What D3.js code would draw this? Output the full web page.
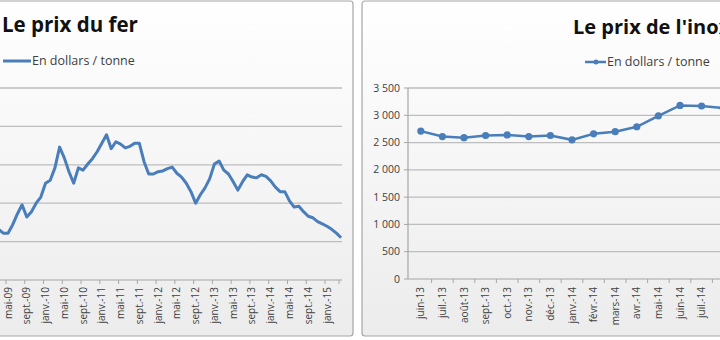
<!DOCTYPE html>
<html>
<head>
<meta charset="utf-8">
<script src="https://cdn.jsdelivr.net/npm/d3@7"></script>
<style>
  body { margin: 0; background: #ffffff; overflow: hidden; }
  svg text { font-family: "Open Sans", "DejaVu Sans", sans-serif; }
</style>
</head>
<body>
<svg id="chart" width="720" height="340"></svg>
<script>
// Iron ore price, monthly, from March 2009 (month index 2) to April 2015
const ferFirstMonth = 2;           // months counted from January 2009
const ferValues = [66, 61, 61, 72, 86, 98, 82, 89, 100, 108,
                   126, 130, 146, 173, 159, 141, 126, 146, 143, 151,
                   158, 167, 178, 189, 171, 180, 177, 172, 174, 178,
                   178, 154, 138, 138, 141, 142, 145, 147, 139, 134,
                   126, 115, 100, 111, 120, 132, 151, 155, 143, 138,
                   128, 117, 128, 137, 134, 133, 137, 135, 129, 121,
                   115, 115, 103, 95, 96, 89, 83, 81, 76, 73,
                   70, 66, 61, 55];
const ferTickLabels = ["mai-09", "sept.-09", "janv.-10", "mai-10", "sept.-10", "janv.-11",
                       "mai-11", "sept.-11", "janv.-12", "mai-12", "sept.-12", "janv.-13",
                       "mai-13", "sept.-13", "janv.-14", "mai-14", "sept.-14", "janv.-15"];
const ferTickFirstMonth = 4;       // mai-09
const ferTickStep = 4;
const ferYTicks = [0, 50, 100, 150, 200, 250];

// Stainless steel price, monthly
const inoxMonths = ["juin-13", "juil.-13", "août-13", "sept.-13", "oct.-13", "nov.-13", "déc.-13",
                    "janv.-14", "févr.-14", "mars-14", "avr.-14", "mai-14", "juin-14", "juil.-14", "août-14"];
const inoxValues = [2710, 2610, 2590, 2630, 2640, 2610, 2630, 2550, 2660, 2700, 2790, 2990, 3180, 3170, 3130];
const inoxYTicks = [0, 500, 1000, 1500, 2000, 2500, 3000, 3500];

const svg = d3.select("#chart");
const blue = "#4a7ebb";
const gridColor = "#bdbdbd";
const textColor = "#404040";
const axisFont = 10;

// background gradient shared by both panels
const defs = svg.append("defs");
const grad = defs.append("linearGradient").attr("id", "panelBg")
  .attr("x1", 0).attr("y1", 0).attr("x2", 0).attr("y2", 1);
grad.append("stop").attr("offset", "0%").attr("stop-color", "#ffffff");
grad.append("stop").attr("offset", "100%").attr("stop-color", "#ececec");

// panels
svg.append("rect").attr("x", -10).attr("y", 1).attr("width", 363).attr("height", 335)
  .attr("rx", 3).attr("fill", "url(#panelBg)").attr("stroke", "#a6a6a6").attr("stroke-width", 1.2);
svg.append("rect").attr("x", 362).attr("y", 1).attr("width", 370).attr("height", 335)
  .attr("rx", 3).attr("fill", "url(#panelBg)").attr("stroke", "#a6a6a6").attr("stroke-width", 1.2);

// ---------- Left chart: iron ore ----------
const left = svg.append("g");
const xFer = d3.scaleLinear().domain([4, 72]).range([8, 327]);
const yFer = d3.scaleLinear().domain([0, 250]).range([280, 88]);
const plotLeftEnd = 342;

left.append("text").attr("x", 2).attr("y", 32)
  .attr("font-size", 20.5).attr("font-weight", "bold").attr("fill", "#111")
  .text("Le prix du fer");
left.append("line").attr("x1", 3).attr("x2", 31).attr("y1", 61).attr("y2", 61)
  .attr("stroke", blue).attr("stroke-width", 3);
left.append("text").attr("x", 32).attr("y", 65)
  .attr("font-size", 12.5).attr("fill", textColor).text("En dollars / tonne");

left.selectAll("line.grid").data(ferYTicks.filter(d => d > 0)).join("line")
  .attr("class", "grid")
  .attr("x1", -10).attr("x2", plotLeftEnd)
  .attr("y1", d => yFer(d)).attr("y2", d => yFer(d))
  .attr("stroke", gridColor).attr("stroke-width", 1.3);

// x axis
left.append("line").attr("x1", -10).attr("x2", plotLeftEnd)
  .attr("y1", yFer(0)).attr("y2", yFer(0)).attr("stroke", "#a6a6a6").attr("stroke-width", 1.2);
const ferTicks = ferTickLabels.map((label, i) => ({ label, m: ferTickFirstMonth + i * ferTickStep }));
left.selectAll("line.tick").data(ferTicks.concat([{ label: "", m: 75 }])).join("line")
  .attr("class", "tick")
  .attr("x1", d => xFer(d.m) - 2).attr("x2", d => xFer(d.m) - 2)
  .attr("y1", yFer(0)).attr("y2", yFer(0) + 4)
  .attr("stroke", "#a6a6a6");
left.selectAll("text.xlab").data(ferTicks).join("text")
  .attr("class", "xlab")
  .attr("transform", d => `translate(${xFer(d.m) + 3.5},287) rotate(-90)`)
  .attr("text-anchor", "end").attr("font-size", axisFont).attr("fill", textColor)
  .text(d => d.label);

const ferLine = d3.line()
  .x((d, i) => xFer(ferFirstMonth + i))
  .y(d => yFer(d));
left.append("path").datum(ferValues)
  .attr("d", ferLine).attr("fill", "none")
  .attr("stroke", blue).attr("stroke-width", 3).attr("stroke-linejoin", "round");

// ---------- Right chart: stainless steel ----------
const right = svg.append("g");
const xInox = d3.scaleBand().domain(inoxMonths).range([410, 410 + 21.6 * inoxMonths.length]);
const yInox = d3.scaleLinear().domain([0, 3500]).range([279, 88]);
const fmt = d3.formatLocale({ decimal: ",", thousands: " ", grouping: [3], currency: ["", " €"] }).format(",d");

right.append("text").attr("x", 573).attr("y", 34)
  .attr("font-size", 20).attr("font-weight", "bold").attr("fill", "#111")
  .text("Le prix de l'inox");
right.append("line").attr("x1", 585).attr("x2", 606).attr("y1", 62).attr("y2", 62)
  .attr("stroke", blue).attr("stroke-width", 2.5);
right.append("circle").attr("cx", 596).attr("cy", 62).attr("r", 2.5).attr("fill", blue);
right.append("text").attr("x", 607).attr("y", 66)
  .attr("font-size", 12.5).attr("fill", textColor).text("En dollars / tonne");

right.selectAll("line.grid").data(inoxYTicks.filter(d => d > 0)).join("line")
  .attr("class", "grid")
  .attr("x1", 408).attr("x2", 730)
  .attr("y1", d => yInox(d)).attr("y2", d => yInox(d))
  .attr("stroke", gridColor).attr("stroke-width", 1.3);
right.selectAll("text.ylab").data(inoxYTicks).join("text")
  .attr("class", "ylab")
  .attr("x", 400).attr("y", d => yInox(d) + 3.5)
  .attr("text-anchor", "end").attr("font-size", 10.5).attr("fill", textColor)
  .text(d => fmt(d));
right.selectAll("line.ytick").data(inoxYTicks).join("line")
  .attr("class", "ytick")
  .attr("x1", 404).attr("x2", 408)
  .attr("y1", d => yInox(d)).attr("y2", d => yInox(d))
  .attr("stroke", "#a6a6a6");

// axes
right.append("line").attr("x1", 408).attr("x2", 408).attr("y1", yInox(3500)).attr("y2", yInox(0))
  .attr("stroke", "#a6a6a6").attr("stroke-width", 1.2);
right.append("line").attr("x1", 408).attr("x2", 730).attr("y1", yInox(0)).attr("y2", yInox(0))
  .attr("stroke", "#a6a6a6").attr("stroke-width", 1.2);
right.selectAll("line.xtick").data(inoxMonths).join("line")
  .attr("class", "xtick")
  .attr("x1", d => xInox(d) + xInox.step()).attr("x2", d => xInox(d) + xInox.step())
  .attr("y1", yInox(0)).attr("y2", yInox(0) + 4)
  .attr("stroke", "#a6a6a6");
// labels for the months whose slot lies inside the panel
right.selectAll("text.xlab").data(inoxMonths.filter(d => xInox(d) + xInox.step() <= 720)).join("text")
  .attr("class", "xlab")
  .attr("transform", d => `translate(${xInox(d) + xInox.bandwidth() / 2 + 3.5},287) rotate(-90)`)
  .attr("text-anchor", "end").attr("font-size", axisFont).attr("fill", textColor)
  .text(d => d);

const inoxLine = d3.line()
  .x((d, i) => xInox(inoxMonths[i]) + xInox.bandwidth() / 2)
  .y(d => yInox(d));
right.append("path").datum(inoxValues)
  .attr("d", inoxLine).attr("fill", "none")
  .attr("stroke", blue).attr("stroke-width", 2.5);
right.selectAll("circle.pt").data(inoxValues).join("circle")
  .attr("class", "pt")
  .attr("cx", (d, i) => xInox(inoxMonths[i]) + xInox.bandwidth() / 2)
  .attr("cy", d => yInox(d))
  .attr("r", 3.6).attr("fill", blue);
</script>
</body>
</html>
